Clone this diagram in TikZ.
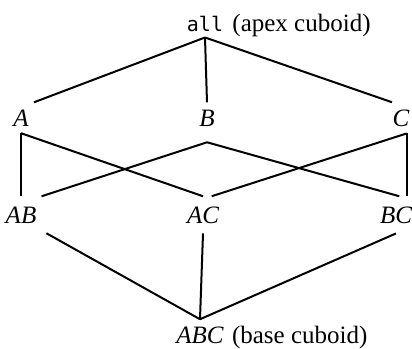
\documentclass[tikz,border=0pt]{standalone}
\usepackage{fontspec}
\setmainfont{Liberation Serif}
\setmonofont{DejaVu Sans Mono}
\usetikzlibrary{positioning}

\begin{document}
\begin{tikzpicture}[
  x=1bp,y=1bp,
  cuboid/.style={inner sep=7bp,font=\fontsize{25bp}{29bp}\selectfont\itshape},
  cuboidlow/.style={cuboid,inner sep=10bp},
  apex/.style={inner sep=6bp,font=\fontsize{20bp}{24bp}\selectfont\ttfamily},
  note/.style={inner sep=0pt,font=\fontsize{25bp}{29bp}\selectfont},
  link/.style={line width=2bp}
]
\useasboundingbox (0,0) rectangle (412,349);
% apex and base cuboids
\node[apex,anchor=base] (all) at (205,318) {all};
\node[note,right=3bp of all.base east,anchor=base west] (allnote) {(apex cuboid)};
\node[cuboid,anchor=base] (ABC) at (200,6) {ABC};
\node[note,right=1bp of ABC.base east,anchor=base west] (ABCnote) {(base cuboid)};
% 1-D cuboids
\node[cuboid,anchor=base] (A) at (21,223) {A};
\node[cuboid,anchor=base] (B) at (207,223) {B};
\node[cuboid,anchor=base] (C) at (401,223) {C};
% 2-D cuboids
\node[cuboidlow,anchor=base] (AB) at (21,126) {AB};
\node[cuboidlow,anchor=base] (AC) at (203,126) {AC};
\node[cuboidlow,anchor=base] (BC) at (396,126) {BC};
% lattice
\draw[link] (all.south) -- (A.50);
\draw[link] (all.south) -- (B.north);
\draw[link] (all.south) -- (C.120);
\draw[link] (A.south) -- (AB.north);
\draw[link] (A.south) -- (AC.north);
\draw[link] ([yshift=-9bp]B.south) -- (AB.42);
\draw[link] ([yshift=-9bp]B.south) -- (BC.80);
\draw[link] (C.-70) -- (C.-70 |- BC.north);
\draw[link] (C.-70) -- (AC.65);
\draw[link] (AB.south east) -- (ABC.north);
\draw[link] (AC.south) -- (ABC.north);
\draw[link] (BC.south) -- (ABC.north);
\end{tikzpicture}
\end{document}
